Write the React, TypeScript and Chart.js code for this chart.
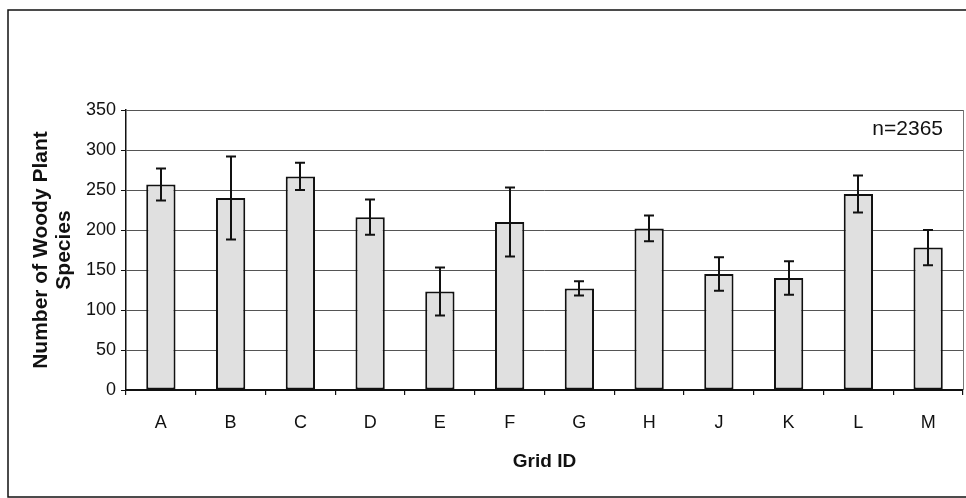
import React, { useEffect, useRef } from "react";
import { Chart, registerables } from "chart.js";

Chart.register(...registerables);

const categories = ["A", "B", "C", "D", "E", "F", "G", "H", "J", "K", "L", "M"];
const meanSpecies = [257, 240, 267, 216, 123, 210, 127, 202, 145, 140, 245, 178];
const errorSpecies = [20, 52, 17, 22, 30, 43, 9, 16, 21, 21, 23, 22];
const yTicks = [0, 50, 100, 150, 200, 250, 300, 350];
const annotationText = "n=2365";
const yTitle = ["Number of Woody Plant", "Species"];
const xTitle = "Grid ID";

const FONT = "'Liberation Sans', Arial, sans-serif";

const errorBarPlugin = {
  id: "errorBars",
  afterDatasetsDraw(chart: any) {
    const ctx = chart.ctx;
    const meta = chart.getDatasetMeta(0);
    const yScale = chart.scales.y;
    ctx.save();
    ctx.strokeStyle = "#111";
    ctx.lineWidth = 2;
    meta.data.forEach((bar: any, i: number) => {
      const x = Math.round(bar.x);
      const yHi = yScale.getPixelForValue(meanSpecies[i] + errorSpecies[i]);
      const yLo = yScale.getPixelForValue(meanSpecies[i] - errorSpecies[i]);
      const cap = 5;
      ctx.beginPath();
      ctx.moveTo(x, yHi);
      ctx.lineTo(x, yLo);
      ctx.moveTo(x - cap, yHi);
      ctx.lineTo(x + cap, yHi);
      ctx.moveTo(x - cap, yLo);
      ctx.lineTo(x + cap, yLo);
      ctx.stroke();
    });
    ctx.restore();
  },
};

const framePlugin = {
  id: "frame",
  afterDraw(chart: any) {
    const ctx = chart.ctx;
    const area = chart.chartArea;
    ctx.save();
    // plot area right border
    ctx.strokeStyle = "#777";
    ctx.lineWidth = 1;
    ctx.beginPath();
    ctx.moveTo(Math.round(area.right) + 0.5, area.top);
    ctx.lineTo(Math.round(area.right) + 0.5, area.bottom);
    ctx.stroke();
    // outer frame
    ctx.strokeStyle = "#111";
    ctx.lineWidth = 1.5;
    ctx.strokeRect(8, 10, 990, 487);
    // annotation
    ctx.fillStyle = "#111";
    ctx.font = `21px ${FONT}`;
    ctx.textAlign = "right";
    ctx.textBaseline = "middle";
    ctx.fillText(annotationText, 943, 129);
    ctx.restore();
  },
};

export default function App() {
  const ref = useRef<HTMLCanvasElement | null>(null);

  useEffect(() => {
    if (!ref.current) return;
    const chart = new Chart(ref.current, {
      type: "bar",
      data: {
        labels: categories,
        datasets: [
          {
            data: meanSpecies,
            backgroundColor: "#e0e0e0",
            borderColor: "#111",
            borderWidth: 2,
            borderSkipped: false,
            barPercentage: 0.42,
            categoryPercentage: 1,
          },
        ],
      },
      options: {
        animation: false,
        responsive: false,
        maintainAspectRatio: false,
        layout: { padding: { left: 0, right: 3, top: 110, bottom: 0 } },
        plugins: {
          legend: { display: false },
          tooltip: { enabled: false },
          title: { display: false },
        },
        scales: {
          x: {
            grid: {
              display: true,
              drawOnChartArea: false,
              drawTicks: true,
              tickLength: 5,
              color: "#111",
              lineWidth: 1.2,
            },
            border: { display: true, color: "#111", width: 2 },
            ticks: {
              color: "#111",
              font: { family: FONT, size: 18 },
              padding: 17,
            },
            title: {
              display: true,
              text: xTitle,
              color: "#111",
              font: { family: FONT, size: 19, weight: "bold" },
              padding: { top: 0, bottom: 25 },
            },
            afterFit(scale: any) {
              scale.height = 108;
            },
          },
          y: {
            min: 0,
            max: 350,
            afterBuildTicks(scale: any) {
              scale.ticks = yTicks.map((v) => ({ value: v }));
            },
            grid: {
              color: "#555",
              lineWidth: 1,
              drawTicks: true,
              tickLength: 5,
              tickColor: "#111",
            },
            border: { display: true, color: "#111", width: 1.5 },
            ticks: {
              color: "#111",
              font: { family: FONT, size: 18 },
              padding: 5,
            },
            title: {
              display: true,
              text: yTitle,
              color: "#111",
              font: { family: FONT, size: 21, weight: "bold", lineHeight: 1.1 },
              padding: { top: 30, bottom: 0 },
            },
            afterFit(scale: any) {
              scale.width = 126;
            },
          },
        },
      },
      plugins: [errorBarPlugin, framePlugin],
    });
    return () => chart.destroy();
  }, []);

  return (
    <div style={{ position: "absolute", left: 0, top: 0, width: 966, height: 498, background: "#fff" }}>
      <canvas ref={ref} width={966} height={498} style={{ display: "block" }} />
    </div>
  );
}
